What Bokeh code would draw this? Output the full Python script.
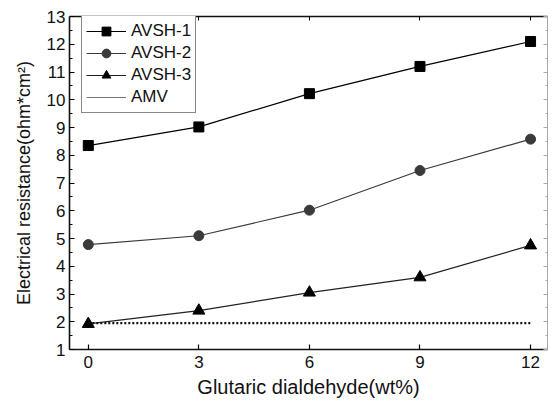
from bokeh.plotting import figure
from bokeh.models import LinearAxis, FixedTicker, Range1d, Legend
from bokeh.embed import file_html
from bokeh.resources import INLINE

# Data
x_vals = [0, 3, 6, 9, 12]
avsh1 = [8.35, 9.02, 10.22, 11.2, 12.1]
avsh2 = [4.78, 5.1, 6.02, 7.45, 8.58]
avsh3 = [1.92, 2.4, 3.05, 3.6, 4.75]
amv = [1.95, 1.95, 1.95, 1.95, 1.95]
x_ticks = [0, 3, 6, 9, 12]
y_ticks = list(range(1, 14))
x_label = "Glutaric dialdehyde(wt%)"
y_label = "Electrical resistance(ohm*cm²)"

FONT = "Liberation Sans"

p = figure(width=548, height=400, output_backend="svg", toolbar_location=None,
           x_range=Range1d(-0.51, 12.46), y_range=Range1d(1, 13),
           min_border_left=69, min_border_right=1, min_border_top=16, min_border_bottom=50)
p.grid.visible = False
p.outline_line_color = None
p.background_fill_color = "white"
p.border_fill_color = "white"

# main axes
xa = p.xaxis[0]
ya = p.yaxis[0]
xa.ticker = FixedTicker(ticks=x_ticks)
ya.ticker = FixedTicker(ticks=y_ticks, minor_ticks=[v + 0.5 for v in y_ticks[:-1]])
for ax in (xa, ya):
    ax.major_tick_in = 5
    ax.major_tick_out = 0
    ax.minor_tick_in = 3
    ax.minor_tick_out = 0
    ax.axis_line_width = 1.6
    ax.major_tick_line_width = 1.2
    ax.axis_line_color = "#111111"
    ax.major_label_text_font = FONT
    ax.major_label_text_font_size = "17px"
    ax.major_label_text_color = "#111111"
    ax.axis_label_text_font = FONT
    ax.axis_label_text_font_style = "normal"
    ax.axis_label_text_color = "#111111"
xa.minor_tick_line_color = None
xa.axis_label = x_label
xa.axis_label_text_font_size = "20px"
ya.axis_label = y_label
ya.axis_label_text_font_size = "18px"
xa.major_label_standoff = 6
ya.major_label_standoff = 4
xa.axis_label_standoff = 5
ya.axis_label_standoff = 10

# mirror axes
top = LinearAxis(ticker=FixedTicker(ticks=x_ticks), major_label_text_font_size="0px",
                 major_tick_in=4, major_tick_out=0, minor_tick_line_color=None,
                 axis_line_width=1.5, axis_line_color="#111111")
top.major_label_overrides = {t: "" for t in x_ticks}
right = LinearAxis(ticker=FixedTicker(ticks=y_ticks, minor_ticks=[v + 0.5 for v in y_ticks[:-1]]),
                   major_label_text_font_size="0px",
                   major_tick_in=4, major_tick_out=0, minor_tick_in=2, minor_tick_out=0,
                   axis_line_width=1, axis_line_color="#aaaaaa",
                   major_tick_line_color="#aaaaaa", minor_tick_line_color="#aaaaaa")
right.major_label_overrides = {t: "" for t in y_ticks}
p.add_layout(top, "above")
p.add_layout(right, "right")

# series
l1 = p.line(x_vals, avsh1, line_color="black", line_width=1.2)
s1 = p.scatter(x_vals, avsh1, marker="square", size=10, fill_color="black", line_color="black")
l2 = p.line(x_vals, avsh2, line_color="#3a3a3a", line_width=1.2)
s2 = p.scatter(x_vals, avsh2, marker="circle", size=10, fill_color="#3a3a3a", line_color="#3a3a3a")
l3 = p.line(x_vals, avsh3, line_color="#222222", line_width=1.2)
s3 = p.scatter(x_vals, avsh3, marker="triangle", size=12, fill_color="black", line_color="black")
l4 = p.line(x_vals, amv, line_color="#111111", line_width=2.2, line_dash="2 2")
l4_leg = p.line(x_vals, [float("nan")] * len(x_vals), line_color="#777777", line_width=1)

legend = Legend(items=[("AVSH-1", [l1, s1]), ("AVSH-2", [l2, s2]),
                       ("AVSH-3", [l3, s3]), ("AMV", [l4_leg])],
                location=(12, 236))
legend.label_text_font = FONT
legend.label_text_font_size = "17px"
legend.label_text_color = "#111111"
legend.glyph_width = 40
legend.glyph_height = 22
legend.label_height = 22
legend.spacing = 0
legend.padding = 4
legend.label_standoff = 5
legend.margin = 0
legend.border_line_color = "#111111"
legend.border_line_width = 1
legend.background_fill_alpha = 1
p.add_layout(legend)

open("out.html", "w").write(file_html(p, INLINE))
